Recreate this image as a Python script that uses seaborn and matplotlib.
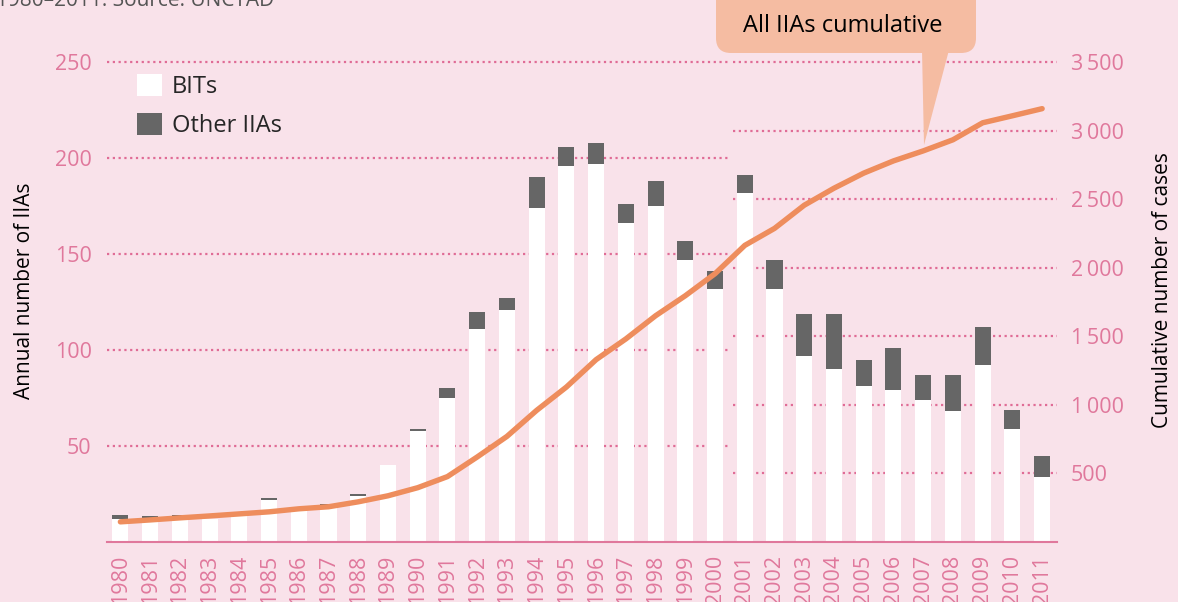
import numpy as np
import matplotlib
matplotlib.use("Agg")
import matplotlib.pyplot as plt
import seaborn as sns
from matplotlib.patches import Patch, FancyBboxPatch, Polygon

years = list(range(1980, 2012))
bits = [12, 12, 13, 12, 14, 22, 18, 19, 24, 40, 58, 75, 111, 121, 174, 196,
        197, 166, 175, 147, 132, 182, 132, 97, 90, 81, 79, 74, 68, 92, 59, 34]
other_iias = [2, 1.5, 1, 0, 0, 1, 0, 1, 1, 0, 1, 5, 9, 6, 16, 10,
              11, 10, 13, 10, 9, 9, 15, 22, 29, 14, 22, 13, 19, 20, 10, 11]
cumulative = [147, 161, 176, 190, 205, 220, 242, 257, 293, 337, 396, 477, 620,
              770, 960, 1130, 1330, 1481, 1650, 1796, 1957, 2163, 2287, 2456,
              2580, 2690, 2779, 2852, 2933, 3057, 3108, 3160]
left_ticks = [50, 100, 150, 200, 250]
right_ticks = [500, 1000, 1500, 2000, 2500, 3000, 3500]

BG = "#F9E2EA"
PINK = "#E0789C"
GRID = "#E06C96"
GRAY = "#666666"
ORANGE = "#EE8D5D"
BUBBLE = "#F5BCA2"

sns.set_theme(style="white", rc={"figure.facecolor": BG, "axes.facecolor": BG})
plt.rcParams["font.family"] = ["Open Sans", "DejaVu Sans"]

fig = plt.figure(figsize=(11.78, 6.02), dpi=100)
ax = fig.add_axes([107 / 1178, 1 - 542 / 602, 950 / 1178, 503 / 602])

totals = [b + o for b, o in zip(bits, other_iias)]
sns.barplot(x=years, y=totals, native_scale=True, width=0.54, color=GRAY,
            saturation=1, linewidth=0, ax=ax, zorder=2)
sns.barplot(x=years, y=bits, native_scale=True, width=0.54, color="white",
            saturation=1, linewidth=0, ax=ax, zorder=2)

ymax = 262
ratio = 14
ax.set_ylim(0, ymax)
ax.set_xlim(1979.55, 2011.5)

# dotted guides: left scale on the left part, right scale on the right part
dots = (0, (1, 1.6))
for v in left_ticks:
    ax.axhline(v, xmin=0, xmax=0.656, ls=dots, lw=1.6, color=GRID, zorder=0.5)
for v in right_ticks:
    ax.axhline(v / ratio, xmin=0.659, xmax=1.0, ls=dots, lw=1.6, color=GRID, zorder=0.5)

ax.set_yticks(left_ticks)
ax.set_yticklabels([str(v) for v in left_ticks])
ax.set_xticks(years)
ax.set_xticklabels([str(y) for y in years], rotation=90)
ax.tick_params(axis="y", length=0, pad=11, labelsize=15.5, labelcolor=PINK)
ax.tick_params(axis="x", length=0, pad=9, labelsize=15.5, labelcolor=PINK)
for s in ["left", "right", "top"]:
    ax.spines[s].set_visible(False)
ax.spines["bottom"].set_color(PINK)
ax.spines["bottom"].set_linewidth(1.5)
ax.set_xlabel("")
ax.set_ylabel("Annual number of IIAs", fontsize=15, color="black", labelpad=14)

ax2 = ax.twinx()
sns.lineplot(x=years, y=cumulative, color=ORANGE, linewidth=3.9, ax=ax2,
             solid_capstyle="round", solid_joinstyle="round")
ax2.set_ylim(0, ymax * ratio)
ax2.set_yticks(right_ticks)
ax2.set_yticklabels([f"{v:,}".replace(",", "\u2009") for v in right_ticks])
ax2.tick_params(axis="y", length=0, pad=10, labelsize=15.5, labelcolor=PINK)
for s in ax2.spines.values():
    s.set_visible(False)
ax2.set_ylabel("Cumulative number of cases", fontsize=15, color="black", labelpad=20)

handles = [Patch(facecolor="white", edgecolor="none", label="BITs"),
           Patch(facecolor=GRAY, edgecolor="none", label="Other IIAs")]
ax.legend(handles=handles, loc="upper left", frameon=False, fontsize=17,
          bbox_to_anchor=(137 / 1178, 1 - 74 / 602), bbox_transform=fig.transFigure,
          borderpad=0, handlelength=1.06, handleheight=1.06, handletextpad=0.42,
          labelspacing=0.6, borderaxespad=0)

# callout and source line drawn in pixel space
ov = fig.add_axes([0, 0, 1, 1], facecolor="none")
ov.set_xlim(0, 1178)
ov.set_ylim(602, 0)
ov.axis("off")
ov.add_patch(FancyBboxPatch((716, -20), 260, 73, boxstyle="round,pad=0,rounding_size=15",
                            facecolor=BUBBLE, edgecolor="none"))
ov.add_patch(Polygon([(922, 50), (949, 50), (924, 145)], closed=True,
                     facecolor=BUBBLE, edgecolor="none"))
ov.text(843, 26, "All IIAs cumulative", fontsize=17, color="black",
        ha="center", va="center")
ov.text(-4, 6, "1980\u20132011. Source: UNCTAD", fontsize=15, color="#555555",
        ha="left", va="baseline")

fig.savefig("out.png", dpi=100, facecolor=BG)
